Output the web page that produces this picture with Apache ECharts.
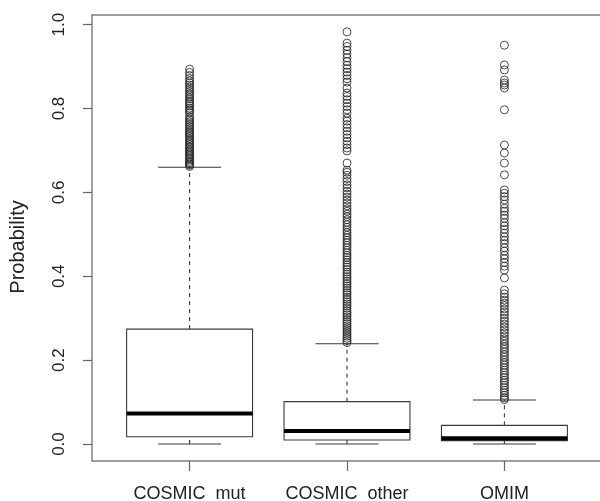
<!DOCTYPE html>
<html>
<head>
<meta charset="utf-8">
<script src="https://cdn.jsdelivr.net/npm/echarts@6/dist/echarts.min.js"></script>
<style>
html,body{margin:0;padding:0;background:#fff;}
#chart{width:600px;height:501px;}
</style>
</head>
<body>
<div id="chart"></div>
<script>
var categories = ['COSMIC_mut', 'COSMIC_other', 'OMIM'];
var whiskerLow = [0.0, 0.0, 0.0];
var q1 = [0.0175, 0.0095, 0.008];
var median = [0.073, 0.031, 0.014];
var q3 = [0.274, 0.101, 0.0445];
var whiskerHigh = [0.66, 0.239, 0.105];
var yTicks = [0, 0.2, 0.4, 0.6, 0.8, 1.0];

var outMut = [0.662,0.665,0.668,0.671,0.674,0.678,0.681,0.685,0.689,0.692,0.696,0.699,0.703,0.707,0.71,0.714,0.718,0.722,0.725,0.729,0.733,0.737,0.741,0.744,0.748,0.752,0.756,0.76,0.764,0.768,0.772,0.776,0.781,0.789,0.793,0.797,0.801,0.806,0.81,0.814,0.818,0.823,0.827,0.832,0.836,0.841,0.846,0.851,0.856,0.861,0.866,0.872,0.879,0.886,0.894];
var outOther = [0.242,0.247,0.252,0.257,0.262,0.267,0.272,0.277,0.282,0.287,0.292,0.297,0.303,0.308,0.313,0.318,0.324,0.329,0.334,0.339,0.345,0.35,0.356,0.361,0.366,0.372,0.377,0.383,0.388,0.394,0.399,0.405,0.41,0.416,0.422,0.427,0.433,0.439,0.445,0.45,0.456,0.462,0.468,0.474,0.48,0.486,0.492,0.498,0.504,0.51,0.517,0.523,0.529,0.535,0.542,0.548,0.555,0.561,0.568,0.575,0.582,0.589,0.596,0.603,0.611,0.618,0.626,0.633,0.641,0.648,0.653,0.67,0.699,0.706,0.714,0.722,0.73,0.738,0.746,0.754,0.762,0.77,0.777,0.789,0.797,0.805,0.813,0.821,0.829,0.837,0.849,0.863,0.871,0.879,0.887,0.895,0.903,0.912,0.921,0.93,0.939,0.948,0.956,0.983];
var outOmim = [0.106,0.11,0.116,0.122,0.128,0.134,0.14,0.146,0.152,0.158,0.164,0.17,0.176,0.182,0.188,0.194,0.2,0.207,0.213,0.219,0.226,0.232,0.238,0.245,0.251,0.258,0.265,0.272,0.279,0.286,0.293,0.3,0.308,0.315,0.322,0.33,0.336,0.343,0.35,0.358,0.367,0.396,0.415,0.424,0.433,0.442,0.45,0.46,0.468,0.478,0.486,0.494,0.503,0.512,0.52,0.528,0.538,0.546,0.555,0.562,0.572,0.582,0.59,0.598,0.606,0.642,0.67,0.694,0.713,0.797,0.849,0.856,0.861,0.868,0.892,0.904,0.951];
var outliers = [outMut, outOther, outOmim];

var boxData = categories.map(function (c, i) {
  return [i + 1, whiskerLow[i], q1[i], median[i], q3[i], whiskerHigh[i]];
});
var scatterData = [];
outliers.forEach(function (arr, i) {
  arr.forEach(function (v) { scatterData.push([i + 1, v]); });
});

var chart = echarts.init(document.getElementById('chart'), null, {renderer: 'canvas'});
var boxStroke = '#3a3a3a';
var frame = {show: true, onZero: false, lineStyle: {color: '#808080', width: 1.5}};
chart.setOption({
  animation: false,
  backgroundColor: '#fff',
  textStyle: {fontFamily: 'Liberation Sans'},
  grid: {left: 92, top: 15, width: 510, height: 446, show: false, containLabel: false, outerBoundsMode: 'none'},
  xAxis: [{
    type: 'value', min: 0.38, max: 3.62, position: 'bottom',
    splitLine: {show: false},
    axisLine: frame,
    axisTick: {show: true, length: 10, customValues: [1, 2, 3], lineStyle: {color: '#666', width: 1.2}},
    axisLabel: {show: true, customValues: [1, 2, 3], margin: 24, fontSize: 18, color: '#222',
      formatter: function (v) { return categories[Math.round(v) - 1] || ''; }}
  }, {
    type: 'value', min: 0.38, max: 3.62, position: 'top',
    splitLine: {show: false},
    axisLine: frame,
    axisTick: {show: false},
    axisLabel: {show: false}
  }],
  yAxis: {
    type: 'value', min: -0.0405, max: 1.0231,
    name: 'Probability', nameLocation: 'middle', nameRotate: 90, nameGap: 64,
    nameTextStyle: {fontSize: 20, color: '#222', padding: [0, 18, 0, 0]},
    splitLine: {show: false},
    axisLine: frame,
    axisTick: {show: true, length: 9, customValues: yTicks, lineStyle: {color: '#666', width: 1.2}},
    axisLabel: {show: true, customValues: yTicks, rotate: 90, margin: 24, fontSize: 17, color: '#222',
      formatter: function (v) { return v.toFixed(1); }}
  },
  series: [
    {
      type: 'custom',
      data: boxData,
      xAxisIndex: 0,
      encode: {x: 0, y: [1, 2, 3, 4, 5]},
      z: 2,
      renderItem: function (params, api) {
        var x = api.value(0);
        var lo = api.value(1), a = api.value(2), m = api.value(3), b = api.value(4), hi = api.value(5);
        var pL = api.coord([x - 0.4, b]);
        var pR = api.coord([x + 0.4, a]);
        var cLo = api.coord([x, lo]), cA = api.coord([x, a]), cB = api.coord([x, b]), cHi = api.coord([x, hi]);
        var capL = api.coord([x - 0.2, lo])[0], capR = api.coord([x + 0.2, lo])[0];
        var mL = api.coord([x - 0.4, m]), mR = api.coord([x + 0.4, m]);
        var line = {stroke: boxStroke, lineWidth: 1.1, fill: null};
        var dashed = {stroke: boxStroke, lineWidth: 1.1, lineDash: [4, 4], fill: null};
        return {
          type: 'group',
          children: [
            {type: 'line', shape: {x1: cB[0], y1: cB[1], x2: cHi[0], y2: cHi[1]}, style: dashed},
            {type: 'line', shape: {x1: cLo[0], y1: cLo[1], x2: cA[0], y2: cA[1]}, style: dashed},
            {type: 'line', shape: {x1: capL, y1: cHi[1], x2: capR, y2: cHi[1]}, style: line},
            {type: 'line', shape: {x1: capL, y1: cLo[1], x2: capR, y2: cLo[1]}, style: line},
            {type: 'rect', shape: {x: pL[0], y: pL[1], width: pR[0] - pL[0], height: pR[1] - pL[1]}, style: line},
            {type: 'line', shape: {x1: mL[0], y1: mL[1], x2: mR[0], y2: mR[1]}, style: {stroke: '#000', lineWidth: 4, lineCap: 'butt'}}
          ]
        };
      }
    },
    {
      type: 'scatter',
      data: scatterData,
      xAxisIndex: 0,
      symbol: 'circle',
      symbolSize: 8,
      z: 3,
      itemStyle: {color: 'rgba(0,0,0,0)', borderColor: '#222', borderWidth: 1},
      emphasis: {disabled: true}
    }
  ]
});
</script>
</body>
</html>
